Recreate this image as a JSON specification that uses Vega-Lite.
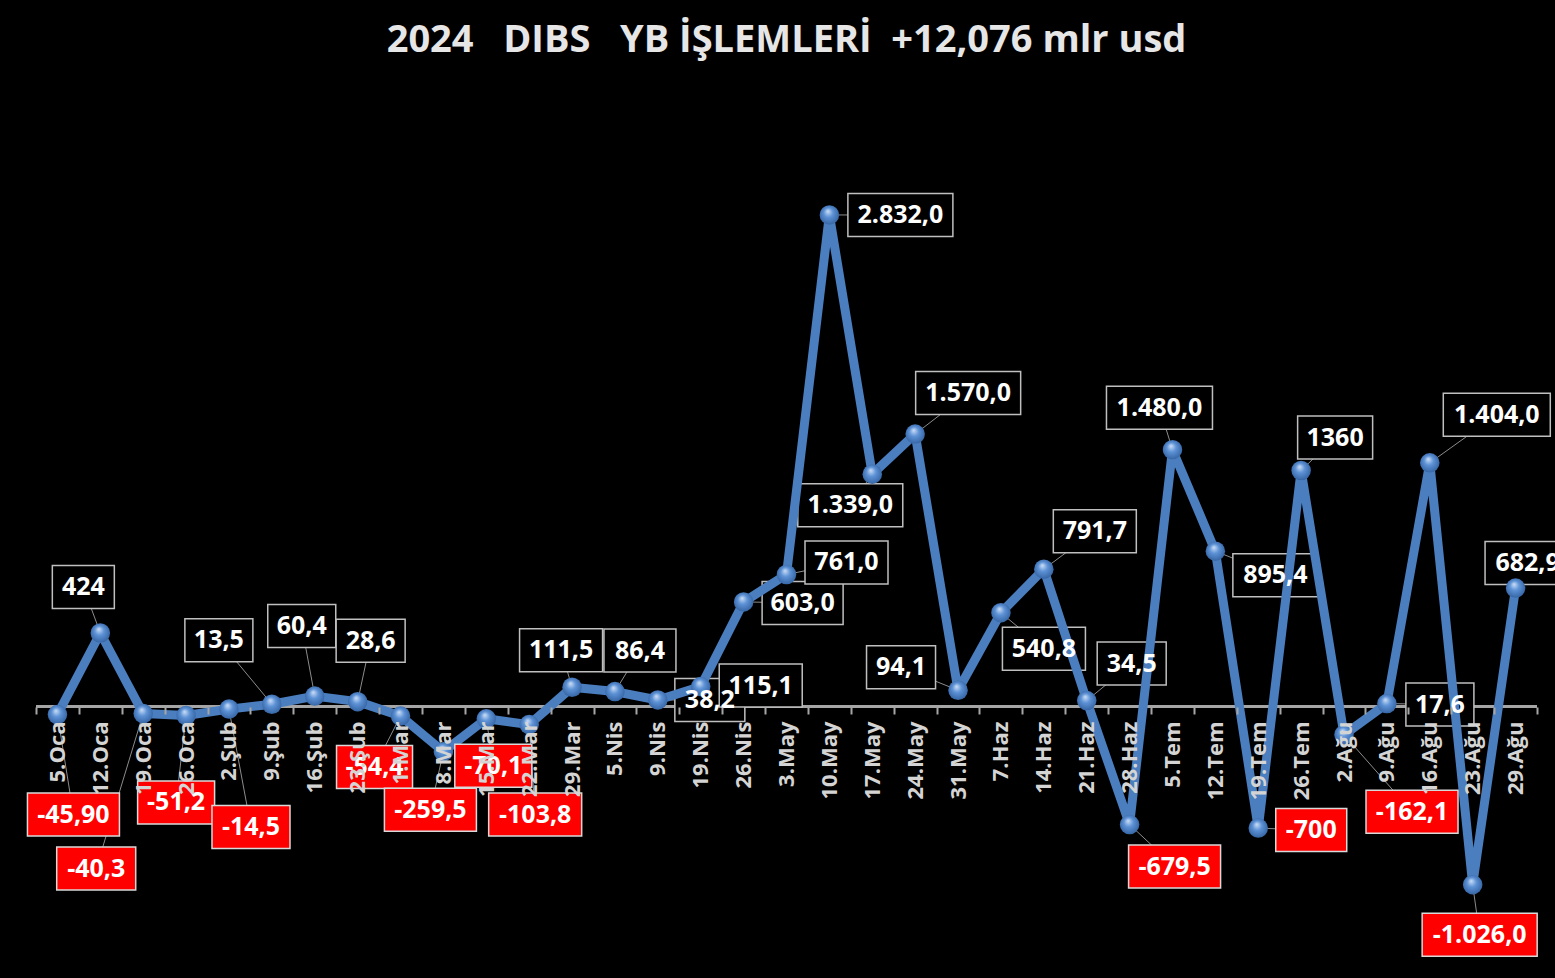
{
  "$schema": "https://vega.github.io/schema/vega-lite/v6.json",
  "width": 1501,
  "height": 868,
  "autosize": "none",
  "padding": {"left": 36, "top": 99, "right": 18, "bottom": 11},
  "background": "black",
  "config": {"view": {"stroke": null}},
  "title": {
    "text": "2024\u00a0 \u00a0DIBS\u00a0 \u00a0YB İŞLEMLERİ\u00a0 +12,076 mlr usd",
    "color": "#e6e6e6",
    "font": "Open Sans",
    "fontSize": 38,
    "fontWeight": "bold",
    "anchor": "middle",
    "frame": "group",
    "baseline": "alphabetic",
    "offset": 9
  },
  "params": [
    {"name": "ldx", "value": [16, -17, -47, -10, 22, -53, -13, 13, -26, -13, 7, 6, -11, 25, 52, 60, 59, 60, 71, -22, 53, -57, 43, 51, 45, 45, -13, 60, 53, 34, 68, 53, 67, 7, 12]},
    {"name": "ldy", "value": [100, -46, 155, 87, 118, -64, -70, -61, 51, 58, 47, 90, -37, -41, 0, -1, 1, -12, 0, 31, -41, -23, 36, -38, -37, 42, -42, 24, 2, -33, 77, 1, -48, 50, -25]},
    {"name": "bw", "value": [92, 62, 79, 77, 78, 68, 68, 69, 76, 92, 77, 93, 83, 72, 70, 83, 81, 83, 105, 105, 105, 69, 83, 83, 69, 92, 106, 85, 71, 75, 92, 68, 107, 115, 85]}
  ],
  "data": {
    "values": [
      {"d": "5.Oca", "v": -45.9, "lbl": "-45,90"},
      {"d": "12.Oca", "v": 424, "lbl": "424"},
      {"d": "19.Oca", "v": -40.3, "lbl": "-40,3"},
      {"d": "26.Oca", "v": -51.2, "lbl": "-51,2"},
      {"d": "2.Şub", "v": -14.5, "lbl": "-14,5"},
      {"d": "9.Şub", "v": 13.5, "lbl": "13,5"},
      {"d": "16.Şub", "v": 60.4, "lbl": "60,4"},
      {"d": "23.Şub", "v": 28.6, "lbl": "28,6"},
      {"d": "1.Mar", "v": -54.4, "lbl": "-54,4"},
      {"d": "8.Mar", "v": -259.5, "lbl": "-259,5"},
      {"d": "15.Mar", "v": -70.1, "lbl": "-70,1"},
      {"d": "22.Mar", "v": -103.8, "lbl": "-103,8"},
      {"d": "29.Mar", "v": 111.5, "lbl": "111,5"},
      {"d": "5.Nis", "v": 86.4, "lbl": "86,4"},
      {"d": "9.Nis", "v": 38.2, "lbl": "38,2"},
      {"d": "19.Nis", "v": 115.1, "lbl": "115,1"},
      {"d": "26.Nis", "v": 603.0, "lbl": "603,0"},
      {"d": "3.May", "v": 761.0, "lbl": "761,0"},
      {"d": "10.May", "v": 2832.0, "lbl": "2.832,0"},
      {"d": "17.May", "v": 1339.0, "lbl": "1.339,0"},
      {"d": "24.May", "v": 1570.0, "lbl": "1.570,0"},
      {"d": "31.May", "v": 94.1, "lbl": "94,1"},
      {"d": "7.Haz", "v": 540.8, "lbl": "540,8"},
      {"d": "14.Haz", "v": 791.7, "lbl": "791,7"},
      {"d": "21.Haz", "v": 34.5, "lbl": "34,5"},
      {"d": "28.Haz", "v": -679.5, "lbl": "-679,5"},
      {"d": "5.Tem", "v": 1480.0, "lbl": "1.480,0"},
      {"d": "12.Tem", "v": 895.4, "lbl": "895,4"},
      {"d": "19.Tem", "v": -700, "lbl": "-700"},
      {"d": "26.Tem", "v": 1360, "lbl": "1360"},
      {"d": "2.Ağu", "v": -162.1, "lbl": "-162,1"},
      {"d": "9.Ağu", "v": 17.6, "lbl": "17,6"},
      {"d": "16.Ağu", "v": 1404.0, "lbl": "1.404,0"},
      {"d": "23.Ağu", "v": -1026.0, "lbl": "-1.026,0"},
      {"d": "29.Ağu", "v": 682.9, "lbl": "682,9"}
    ]
  },
  "transform": [{"window": [{"op": "row_number", "as": "rn"}]}],
  "encoding": {
    "x": {"field": "d", "type": "nominal", "sort": null, "bandPosition": 0.5,
      "scale": {"type": "band", "paddingInner": 0, "paddingOuter": 0},
      "axis": {"orient": "bottom", "offset": -260, "domain": false, "grid": false, "ticks": true, "tickBand": "extent", "tickColor": "#a6a6a6", "tickSize": 7, "tickWidth": 2, "labelAngle": 270, "labelAlign": "right", "labelBaseline": "middle", "labelFont": "Open Sans", "labelFontWeight": "bold", "labelFontSize": 22, "labelColor": "#d4d4d4", "labelPadding": 7, "labelOverlap": false, "title": null, "zindex": 1}},
    "y": {"field": "v", "type": "quantitative", "scale": {"domain": [-1500, 3500], "nice": false, "zero": false}, "axis": null}
  },
  "layer": [
    {
      "mark": {"type": "rule", "color": "#8c8c8c", "strokeWidth": 1, "x2Offset": {"expr": "ldx[datum.rn-1]"}, "y2Offset": {"expr": "ldy[datum.rn-1]"}},
      "encoding": {
        "x2": {"field": "d", "bandPosition": 0.5},
        "y2": {"field": "v"}
      }
    },
    {
      "mark": {"type": "rule", "color": "#a6a6a6", "strokeWidth": 2},
      "encoding": {
        "x": {"value": 0},
        "x2": {"value": "width"},
        "y": {"datum": 0, "type": "quantitative"}
      }
    },
    {
      "transform": [{"filter": "datum.v >= 0"}],
      "mark": {"type": "rect", "fill": "black", "stroke": "#bfbfbf", "strokeWidth": 1.5, "height": 43, "width": {"expr": "bw[datum.rn-1]"}, "xOffset": {"expr": "ldx[datum.rn-1]"}, "yOffset": {"expr": "ldy[datum.rn-1]"}}
    },
    {
      "mark": {"type": "line", "color": "#4a7ebf", "strokeWidth": 9, "strokeJoin": "round"}
    },
    {
      "mark": {"type": "point", "filled": true, "size": 380, "opacity": 1, "strokeWidth": 0,
        "fill": {"gradient": "radial", "x1": 0.42, "y1": 0.3, "r1": 0, "x2": 0.5, "y2": 0.5, "r2": 0.6,
          "stops": [{"offset": 0, "color": "#cfe0f7"}, {"offset": 0.4, "color": "#5d92d6"}, {"offset": 1, "color": "#2c5a98"}]}}
    },
    {
      "transform": [{"filter": "datum.v < 0"}],
      "mark": {"type": "rect", "fill": "#ff0000", "stroke": "#d9d9d9", "strokeWidth": 1.5, "height": 43, "width": {"expr": "bw[datum.rn-1]"}, "xOffset": {"expr": "ldx[datum.rn-1]"}, "yOffset": {"expr": "ldy[datum.rn-1]"}}
    },
    {
      "mark": {"type": "text", "font": "Open Sans", "fontWeight": "bold", "fontSize": 25, "color": "white", "align": "center", "baseline": "middle", "dx": {"expr": "ldx[datum.rn-1]"}, "dy": {"expr": "ldy[datum.rn-1]"}},
      "encoding": {"text": {"field": "lbl"}}
    }
  ]
}
